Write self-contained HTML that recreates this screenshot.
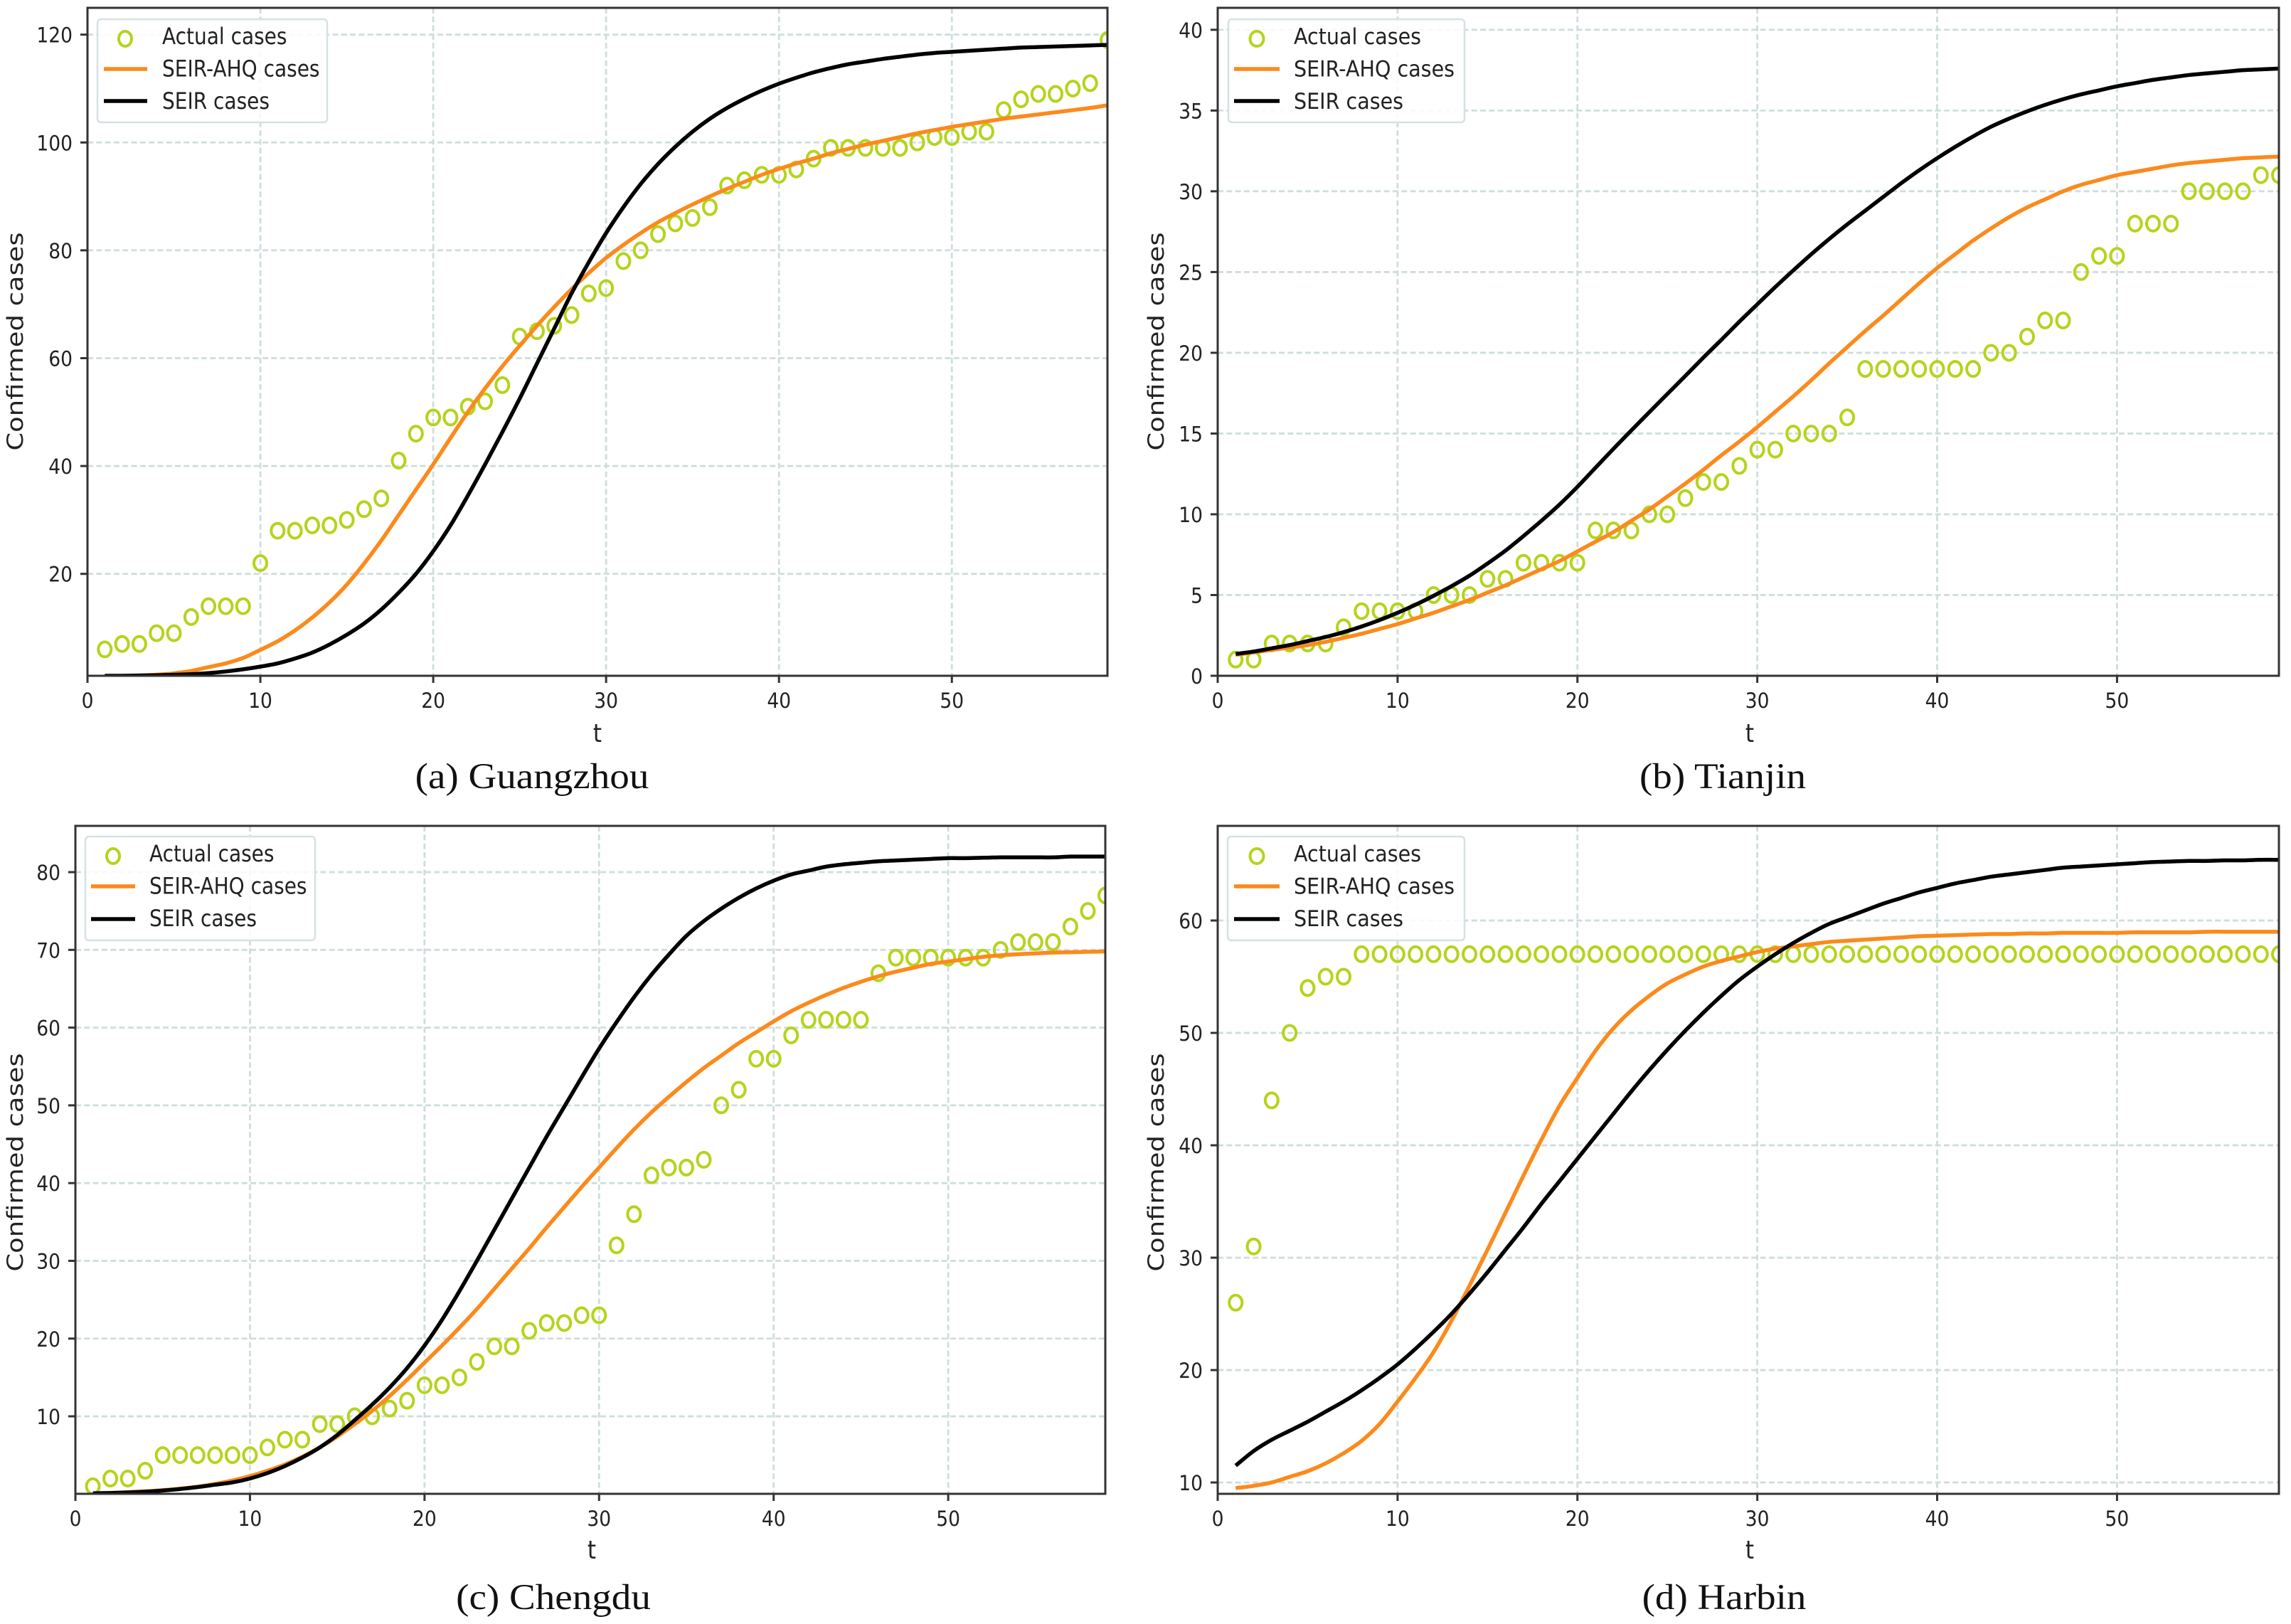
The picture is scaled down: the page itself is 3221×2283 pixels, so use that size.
<!DOCTYPE html>
<html lang="en">
<head>
<meta charset="utf-8">
<title>Confirmed cases: actual, SEIR-AHQ and SEIR in four cities</title>
<style>
html,body{margin:0;padding:0;background:#fff;}
svg{display:block;}
.tick{font-family:"DejaVu Sans","Liberation Sans",sans-serif;font-size:26.5px;fill:#222;}
.leg{font-family:"DejaVu Sans","Liberation Sans",sans-serif;font-size:28px;fill:#222;}
.axt{font-family:"DejaVu Sans","Liberation Sans",sans-serif;font-size:31px;fill:#222;}
.cap{font-family:"Liberation Serif",serif;font-size:51px;fill:#111;}
</style>
</head>
<body>
<svg id="figure" xmlns="http://www.w3.org/2000/svg" width="3221" height="2283" viewBox="0 0 3221 2283">
<rect width="3221" height="2283" fill="#fff"/>
<defs>
<clipPath id="clip-a"><rect x="123" y="11" width="1434" height="939"/></clipPath>
<clipPath id="clip-b"><rect x="1712" y="11" width="1492" height="939"/></clipPath>
<clipPath id="clip-c"><rect x="106" y="1161" width="1448" height="939"/></clipPath>
<clipPath id="clip-d"><rect x="1712" y="1161" width="1492" height="939"/></clipPath>
</defs>

<!-- Panel a -->
<g>
<g id="grid-a"></g>
<g id="marks-a" clip-path="url(#clip-a)"></g>
<g id="ticks-a"></g>
<rect x="123" y="11" width="1434" height="939" fill="none" stroke="#333" stroke-width="3"/>
<g>
<rect x="137" y="27" width="323" height="145" rx="5" fill="#fff" fill-opacity="0.85" stroke="#d5e1e2" stroke-width="2.5"/>
<ellipse cx="176" cy="54.5" rx="9" ry="10.5" fill="none" stroke="#b4d41c" stroke-width="4"/>
<line x1="146" x2="207" y1="97" y2="97" stroke="#fb8a1c" stroke-width="5.5"/>
<line x1="146" x2="207" y1="142" y2="142" stroke="#000" stroke-width="5.5"/>
<text class="leg" transform="translate(228,62) scale(1,1.15)">Actual cases</text>
<text class="leg" transform="translate(228,107.5) scale(1,1.15)">SEIR-AHQ cases</text>
<text class="leg" transform="translate(228,153) scale(1,1.15)">SEIR cases</text>
</g>
<text class="axt" text-anchor="middle" transform="translate(32,480) rotate(-90) scale(1.19,1)">Confirmed cases</text>
<text class="axt" text-anchor="middle" transform="translate(840,1043) scale(1,1.15)">t</text>
<text class="cap" text-anchor="middle" transform="translate(748,1108) scale(1.08,1)">(a) Guangzhou</text>
</g>

<!-- Panel b -->
<g>
<g id="grid-b"></g>
<g id="marks-b" clip-path="url(#clip-b)"></g>
<g id="ticks-b"></g>
<rect x="1712" y="11" width="1492" height="939" fill="none" stroke="#333" stroke-width="3"/>
<g>
<rect x="1727" y="27" width="332" height="145" rx="5" fill="#fff" fill-opacity="0.85" stroke="#d5e1e2" stroke-width="2.5"/>
<ellipse cx="1767" cy="54.5" rx="9.5" ry="10.5" fill="none" stroke="#b4d41c" stroke-width="4"/>
<line x1="1735" x2="1799" y1="97" y2="97" stroke="#fb8a1c" stroke-width="5.5"/>
<line x1="1735" x2="1799" y1="142" y2="142" stroke="#000" stroke-width="5.5"/>
<text class="leg" transform="translate(1819,62) scale(1.02,1.12)">Actual cases</text>
<text class="leg" transform="translate(1819,107.5) scale(1.02,1.12)">SEIR-AHQ cases</text>
<text class="leg" transform="translate(1819,153) scale(1.02,1.12)">SEIR cases</text>
</g>
<text class="axt" text-anchor="middle" transform="translate(1636,480) rotate(-90) scale(1.19,1)">Confirmed cases</text>
<text class="axt" text-anchor="middle" transform="translate(2460,1043) scale(1,1.15)">t</text>
<text class="cap" text-anchor="middle" transform="translate(2422,1108) scale(1.08,1)">(b) Tianjin</text>
</g>

<!-- Panel c -->
<g>
<g id="grid-c"></g>
<g id="marks-c" clip-path="url(#clip-c)"></g>
<g id="ticks-c"></g>
<rect x="106" y="1161" width="1448" height="939" fill="none" stroke="#333" stroke-width="3"/>
<g>
<rect x="120" y="1176" width="323" height="146" rx="5" fill="#fff" fill-opacity="0.85" stroke="#d5e1e2" stroke-width="2.5"/>
<ellipse cx="159" cy="1203.5" rx="9" ry="10.5" fill="none" stroke="#b4d41c" stroke-width="4"/>
<line x1="128" x2="190" y1="1246" y2="1246" stroke="#fb8a1c" stroke-width="5.5"/>
<line x1="128" x2="190" y1="1292" y2="1292" stroke="#000" stroke-width="5.5"/>
<text class="leg" transform="translate(210,1211) scale(1,1.15)">Actual cases</text>
<text class="leg" transform="translate(210,1256.5) scale(1,1.15)">SEIR-AHQ cases</text>
<text class="leg" transform="translate(210,1302) scale(1,1.15)">SEIR cases</text>
</g>
<text class="axt" text-anchor="middle" transform="translate(32,1634) rotate(-90) scale(1.19,1)">Confirmed cases</text>
<text class="axt" text-anchor="middle" transform="translate(832,2191) scale(1,1.15)">t</text>
<text class="cap" text-anchor="middle" transform="translate(778,2262) scale(1.08,1)">(c) Chengdu</text>
</g>

<!-- Panel d -->
<g>
<g id="grid-d"></g>
<g id="marks-d" clip-path="url(#clip-d)"></g>
<g id="ticks-d"></g>
<rect x="1712" y="1161" width="1492" height="939" fill="none" stroke="#333" stroke-width="3"/>
<g>
<rect x="1726" y="1176" width="333" height="146" rx="5" fill="#fff" fill-opacity="0.85" stroke="#d5e1e2" stroke-width="2.5"/>
<ellipse cx="1767" cy="1203.5" rx="9.5" ry="10.5" fill="none" stroke="#b4d41c" stroke-width="4"/>
<line x1="1735" x2="1799" y1="1246" y2="1246" stroke="#fb8a1c" stroke-width="5.5"/>
<line x1="1735" x2="1799" y1="1292" y2="1292" stroke="#000" stroke-width="5.5"/>
<text class="leg" transform="translate(1819,1211) scale(1.02,1.12)">Actual cases</text>
<text class="leg" transform="translate(1819,1256.5) scale(1.02,1.12)">SEIR-AHQ cases</text>
<text class="leg" transform="translate(1819,1302) scale(1.02,1.12)">SEIR cases</text>
</g>
<text class="axt" text-anchor="middle" transform="translate(1636,1634) rotate(-90) scale(1.19,1)">Confirmed cases</text>
<text class="axt" text-anchor="middle" transform="translate(2460,2191) scale(1,1.15)">t</text>
<text class="cap" text-anchor="middle" transform="translate(2424,2262) scale(1.08,1)">(d) Harbin</text>
</g>
</svg>

<script>
// Shared x tick labels (t)
var xTickValues = [0, 10, 20, 30, 40, 50];

// y tick labels per city
var yTicksGuangzhou = [20, 40, 60, 80, 100, 120];
var yTicksTianjin = [0, 5, 10, 15, 20, 25, 30, 35, 40];
var yTicksChengdu = [10, 20, 30, 40, 50, 60, 70, 80];
var yTicksHarbin = [10, 20, 30, 40, 50, 60];

// Guangzhou (t = 1..59)
var actualGuangzhou = [6,7,7,9,9,12,14,14,14,22,28,28,29,29,30,32,34,41,46,49,49,51,52,55,64,65,66,68,72,73,78,80,83,85,86,88,92,93,94,94,95,97,99,99,99,99,99,100,101,101,102,102,106,108,109,109,110,111,119];
var ahqGuangzhou = [1.0,1.05,1.15,1.3,1.55,2.0,2.7,3.4,4.4,5.9,7.5,9.5,11.9,14.7,18,21.9,26.2,30.9,35.6,40.3,45.2,50,54.4,58.5,62.3,66,69.5,72.8,75.8,78.6,81,83.2,85.2,86.9,88.5,90,91.4,92.7,94,95.1,96.1,97,98,98.8,99.6,100.3,101,101.7,102.3,102.9,103.4,103.9,104.4,104.8,105.2,105.6,106,106.4,106.9];
var seirGuangzhou = [1.1,1.1,1.15,1.2,1.3,1.4,1.6,1.9,2.3,2.8,3.4,4.3,5.4,6.9,8.7,10.8,13.4,16.5,20,24.2,29,34.5,40.3,46.3,52.5,59,65.5,72,77.8,83.2,88,92.3,96,99.2,102,104.4,106.4,108.1,109.6,110.9,112,113,113.8,114.5,115,115.5,115.9,116.3,116.6,116.8,117,117.2,117.4,117.6,117.7,117.8,117.9,118,118.1];

// Tianjin
var actualTianjin = [1,1,2,2,2,2,3,4,4,4,4,5,5,5,6,6,7,7,7,7,9,9,9,10,10,11,12,12,13,14,14,15,15,15,16,19,19,19,19,19,19,19,20,20,21,22,22,25,26,26,28,28,28,30,30,30,30,31,31];
var ahqTianjin = [1.3,1.45,1.6,1.75,1.9,2.1,2.35,2.6,2.9,3.2,3.55,3.9,4.3,4.7,5.15,5.6,6.1,6.6,7.1,7.7,8.3,8.9,9.6,10.3,11.1,11.9,12.75,13.65,14.5,15.4,16.35,17.3,18.3,19.35,20.35,21.35,22.3,23.3,24.3,25.25,26.1,26.95,27.7,28.4,29,29.5,30,30.4,30.7,31,31.2,31.4,31.6,31.75,31.85,31.95,32.05,32.1,32.15];
var seirTianjin = [1.35,1.5,1.7,1.9,2.15,2.4,2.7,3.05,3.45,3.9,4.4,4.95,5.55,6.2,6.95,7.75,8.65,9.6,10.6,11.7,12.88,14.05,15.2,16.33,17.45,18.57,19.7,20.8,21.92,23,24.07,25.1,26.1,27.05,27.95,28.8,29.65,30.5,31.3,32.05,32.75,33.4,34,34.5,34.95,35.35,35.7,36,36.25,36.5,36.7,36.9,37.05,37.2,37.3,37.4,37.5,37.55,37.6];

// Chengdu
var actualChengdu = [1,2,2,3,5,5,5,5,5,5,6,7,7,9,9,10,10,11,12,14,14,15,17,19,19,21,22,22,23,23,32,36,41,42,42,43,50,52,56,56,59,61,61,61,61,67,69,69,69,69,69,69,70,71,71,71,73,75,77];
var ahqChengdu = [0.1,0.15,0.25,0.35,0.5,0.7,0.95,1.3,1.75,2.3,3,3.8,4.8,6,7.4,9,10.7,12.6,14.7,16.9,19.1,21.4,23.8,26.4,29,31.6,34.3,36.9,39.5,42,44.5,46.9,49.1,51.1,53,54.8,56.4,58,59.4,60.8,62.1,63.2,64.2,65.1,65.9,66.6,67.2,67.7,68.2,68.5,68.8,69.1,69.3,69.45,69.55,69.65,69.7,69.75,69.8];
var seirChengdu = [0.1,0.13,0.2,0.3,0.45,0.65,0.9,1.2,1.5,2.0,2.7,3.6,4.7,6,7.6,9.5,11.5,13.7,16.2,19.1,22.4,26.1,30,34,38,42,46,49.8,53.6,57.3,60.7,63.9,66.8,69.4,71.8,73.7,75.3,76.7,77.9,78.9,79.7,80.2,80.7,81,81.2,81.4,81.5,81.6,81.7,81.8,81.8,81.85,81.9,81.9,81.9,81.9,82,82,82];

// Harbin
var actualHarbin = [26,31,44,50,54,55,55,57,57,57,57,57,57,57,57,57,57,57,57,57,57,57,57,57,57,57,57,57,57,57,57,57,57,57,57,57,57,57,57,57,57,57,57,57,57,57,57,57,57,57,57,57,57,57,57,57,57,57,57];
var ahqHarbin = [9.5,9.7,10,10.5,11,11.7,12.6,13.7,15.2,17.2,19.3,21.6,24.4,27.5,30.7,34,37.3,40.5,43.5,46,48.4,50.4,52,53.3,54.4,55.2,55.9,56.4,56.8,57.2,57.5,57.7,57.9,58.1,58.2,58.3,58.4,58.5,58.6,58.65,58.7,58.75,58.8,58.8,58.85,58.85,58.9,58.9,58.9,58.9,58.95,58.95,58.95,58.95,59,59,59,59,59];
var seirHarbin = [11.5,12.8,13.8,14.6,15.4,16.3,17.2,18.2,19.3,20.5,21.9,23.4,25,26.8,28.7,30.7,32.7,34.8,36.8,38.8,40.8,42.8,44.8,46.7,48.5,50.2,51.8,53.3,54.7,55.9,57,58,58.9,59.7,60.3,60.9,61.5,62,62.5,62.9,63.3,63.6,63.9,64.1,64.3,64.5,64.7,64.8,64.9,65,65.1,65.2,65.25,65.3,65.3,65.35,65.35,65.4,65.4];

var SVGNS = 'http://www.w3.org/2000/svg';
function make(tag, attrs, parent) {
  var el = document.createElementNS(SVGNS, tag);
  for (var k in attrs) el.setAttribute(k, attrs[k]);
  parent.appendChild(el);
  return el;
}
function scale(d0, d1, r0, r1) {
  return function (v) { return r0 + (v - d0) * (r1 - r0) / (d1 - d0); };
}
// Smooth curve through every data point (Catmull-Rom to cubic Bezier)
function smoothPath(values, x, y) {
  var pts = values.map(function (v, i) { return [x(i + 1), y(v)]; });
  var d = 'M' + pts[0][0].toFixed(2) + ' ' + pts[0][1].toFixed(2);
  for (var i = 0; i < pts.length - 1; i++) {
    var p0 = pts[Math.max(i - 1, 0)], p1 = pts[i], p2 = pts[i + 1], p3 = pts[Math.min(i + 2, pts.length - 1)];
    var c1x = p1[0] + (p2[0] - p0[0]) / 6, c1y = p1[1] + (p2[1] - p0[1]) / 6;
    var c2x = p2[0] - (p3[0] - p1[0]) / 6, c2y = p2[1] - (p3[1] - p1[1]) / 6;
    d += 'C' + c1x.toFixed(2) + ' ' + c1y.toFixed(2) + ' ' + c2x.toFixed(2) + ' ' + c2y.toFixed(2) + ' ' + p2[0].toFixed(2) + ' ' + p2[1].toFixed(2);
  }
  return d;
}

function drawPanel(id, box, xMax, yMin, yMax, yTicks, actual, ahq, seir, xLabelBaseline) {
  var x = scale(0, xMax, box.left, box.right);
  var y = scale(yMin, yMax, box.bottom, box.top);
  var grid = document.getElementById('grid-' + id);
  var marks = document.getElementById('marks-' + id);
  var ticks = document.getElementById('ticks-' + id);
  var gridStyle = {stroke: '#cfdddd', 'stroke-width': 2.8, 'stroke-dasharray': '8 4.3', fill: 'none'};

  xTickValues.forEach(function (v) {
    var px = x(v);
    var a = Object.assign({x1: px, x2: px, y1: box.top, y2: box.bottom}, gridStyle);
    var g = make('line', a, grid);
    
    
    var t = make('line', {x1: px, x2: px, y1: box.bottom, y2: box.bottom + 10, stroke: '#333', 'stroke-width': 3}, ticks);
    
    
    var l = make('text', {'class': 'tick', 'text-anchor': 'middle', transform: 'translate(' + px + ',' + xLabelBaseline + ') scale(1,1.12)'}, ticks);
    
    
    l.textContent = v;
  });

  yTicks.forEach(function (v) {
    var py = y(v);
    var a = Object.assign({x1: box.left, x2: box.right, y1: py, y2: py}, gridStyle);
    var g = make('line', a, grid);
    
    
    var t = make('line', {x1: box.left - 10, x2: box.left, y1: py, y2: py, stroke: '#333', 'stroke-width': 3}, ticks);
    
    
    var l = make('text', {'class': 'tick', 'text-anchor': 'end', transform: 'translate(' + (box.left - 21) + ',' + (py + 11) + ') scale(1,1.12)'}, ticks);
    
    
    l.textContent = v;
  });

  actual.forEach(function (v, i) {
    var c = make('ellipse', {cx: x(i + 1), cy: y(v), rx: 9, ry: 10.5, fill: 'none', stroke: '#b4d41c', 'stroke-width': 4}, marks);
    
    
  });

  var o = make('path', {d: smoothPath(ahq, x, y), fill: 'none', stroke: '#fb8a1c', 'stroke-width': 5.5, 'stroke-linejoin': 'round'}, marks);
  
  
  var b = make('path', {d: smoothPath(seir, x, y), fill: 'none', stroke: '#000', 'stroke-width': 5.5, 'stroke-linejoin': 'round'}, marks);
  
  
}

drawPanel('a', {left: 123, right: 1557, top: 11, bottom: 950}, 59, 1.1, 124.97, yTicksGuangzhou, actualGuangzhou, ahqGuangzhou, seirGuangzhou, 995);
drawPanel('b', {left: 1712, right: 3204, top: 11, bottom: 950}, 59, 0, 41.36, yTicksTianjin, actualTianjin, ahqTianjin, seirTianjin, 995);
drawPanel('c', {left: 106, right: 1554, top: 1161, bottom: 2100}, 59, 0.03, 85.95, yTicksChengdu, actualChengdu, ahqChengdu, seirChengdu, 2145);
drawPanel('d', {left: 1712, right: 3204, top: 1161, bottom: 2100}, 59, 8.99, 68.42, yTicksHarbin, actualHarbin, ahqHarbin, seirHarbin, 2145);
</script>
</body>
</html>
